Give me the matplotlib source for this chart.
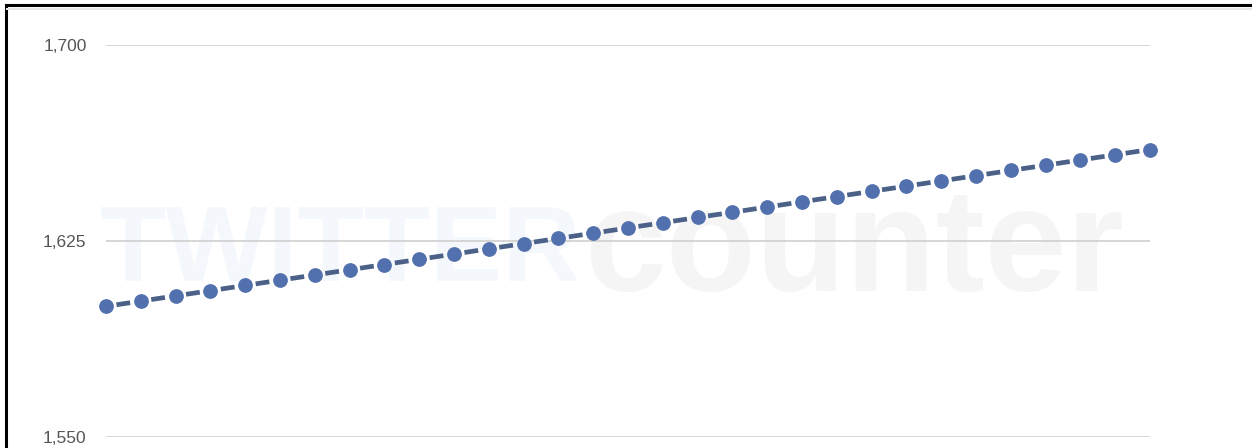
import numpy as np
import matplotlib.pyplot as plt
import matplotlib.ticker as mticker

# --- follower counts, one point per day ---
days = list(range(31))
followers = [1600, 1602, 1604, 1606, 1608, 1610, 1612, 1614, 1616, 1618,
             1620, 1622, 1624, 1626, 1628, 1630, 1632, 1634, 1636, 1638,
             1640, 1642, 1644, 1646, 1648, 1650, 1652, 1654, 1656, 1658, 1660]
y_ticks = [1550, 1625, 1700]

plt.rcParams['font.family'] = ['Liberation Sans', 'DejaVu Sans']
plt.rcParams['lines.scale_dashes'] = False

fig = plt.figure(figsize=(12.52, 4.48), dpi=100)
ax = fig.add_axes([106 / 1252, 11 / 448, 1044 / 1252, 392 / 448])

ax.set_xlim(days[0], days[-1])
ax.set_ylim(y_ticks[0], y_ticks[-1])
ax.set_yticks(y_ticks)
ax.yaxis.set_major_formatter(mticker.FuncFormatter(lambda v, _: f"{v:,.0f}"))
ax.set_xticks([])
ax.tick_params(axis='y', length=0, pad=14, labelsize=12.5, labelcolor='#555555')
for s in ax.spines.values():
    s.set_visible(False)
ax.grid(True, axis='y', color='#cfcfcf', linewidth=1.2, zorder=0)
ax.patch.set_alpha(0)

# faint watermark
ax.text(0.225, 0.47, "TWITTER", transform=ax.transAxes, ha='center', va='center',
        fontsize=78, fontweight='bold', color='#f4f8fc', zorder=0.5)
ax.text(0.717, 0.47, "counter", transform=ax.transAxes, ha='center', va='center',
        fontsize=106, fontweight='bold', color='#f5f5f5', zorder=0.5)

# dashed connectors, one dash centred between neighbouring points
for i in range(len(days) - 1):
    ax.plot(days[i:i + 2], followers[i:i + 2], color='#4b6188', linewidth=3.4,
            linestyle=(17.7, (10.0, 15.3)), solid_capstyle='butt',
            dash_capstyle='butt', zorder=2)
ax.plot(days, followers, linestyle='none', marker='o', markersize=9.6,
        markerfacecolor='#5270ad', markeredgecolor='#5270ad', zorder=3, clip_on=False)

# screenshot frame: top and left black edges
fig.add_artist(plt.Line2D([6 / 1252, 1], [1 - 5 / 448, 1 - 5 / 448],
                          transform=fig.transFigure, color='black', linewidth=2.2))
fig.add_artist(plt.Line2D([6 / 1252, 6 / 1252], [0, 1 - 5 / 448],
                          transform=fig.transFigure, color='black', linewidth=2.2))
fig.add_artist(plt.Line2D([7 / 1252, 1], [1 - 9 / 448, 1 - 9 / 448],
                          transform=fig.transFigure, color='#e6e6e6', linewidth=1.5))

fig.savefig("out.png", dpi=100, facecolor='white')
